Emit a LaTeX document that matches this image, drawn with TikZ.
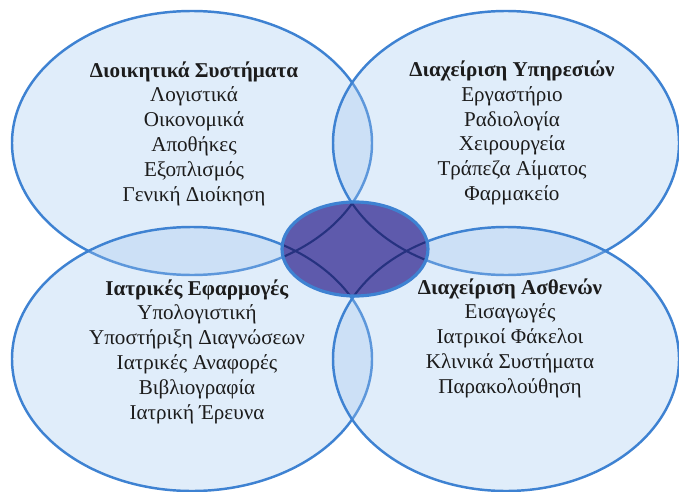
\documentclass[tikz,border=0pt]{standalone}
\usepackage{fontspec}
\setmainfont{Liberation Serif}
\definecolor{rim}{RGB}{62,130,210}
\definecolor{haze}{RGB}{160,198,238}
\definecolor{core}{RGB}{94,90,172}
\definecolor{seam}{RGB}{38,50,128}
\definecolor{ink}{RGB}{28,28,28}
\begin{document}
\begin{tikzpicture}[
  field/.style={draw=rim, line width=1.4pt, fill=haze, fill opacity=0.32},
  lbl/.style={align=center, text=ink, font=\fontsize{12}{14.1}\selectfont}]
\useasboundingbox (0,0) rectangle (13.58,-9.82);
% the four areas
\path[field] (3.84,-2.86) ellipse [x radius=3.6, y radius=2.64];
\path[field] (10.12,-2.86) ellipse [x radius=3.46, y radius=2.64];
\path[field] (3.84,-7.18) ellipse [x radius=3.6, y radius=2.64];
\path[field] (10.12,-7.18) ellipse [x radius=3.46, y radius=2.64];

% common core
\fill[core] (7.1,-4.98) ellipse [x radius=1.46, y radius=0.94];
\begin{scope}
\clip (7.1,-4.98) ellipse [x radius=1.46, y radius=0.94];
\foreach \cx/\cy/\rx in {3.84/-2.86/3.6, 10.12/-2.86/3.46, 3.84/-7.18/3.6, 10.12/-7.18/3.46}
  \draw[seam, line width=1.2pt] (\cx,\cy) ellipse [x radius=\rx, y radius=2.64];
\end{scope}
\draw[rim, line width=1.8pt] (7.1,-4.98) ellipse [x radius=1.46, y radius=0.94];

\node[lbl] (adm) at (3.88,-2.67) {\textbf{Διοικητικά Συστήματα}\\Λογιστικά\\Οικονομικά\\Αποθήκες\\Εξοπλισμός\\Γενική Διοίκηση};
\node[lbl] (srv) at (10.24,-2.66) {\textbf{Διαχείριση Υπηρεσιών}\\Εργαστήριο\\Ραδιολογία\\Χειρουργεία\\Τράπεζα Αίματος\\Φαρμακείο};
\node[lbl] (med) at (3.94,-7.03) {\textbf{Ιατρικές Εφαρμογές}\\Υπολογιστική\\Υποστήριξη Διαγνώσεων\\Ιατρικές Αναφορές\\Βιβλιογραφία\\Ιατρική Έρευνα};
\node[lbl] (pat) at (10.2,-6.76) {\textbf{Διαχείριση Ασθενών}\\Εισαγωγές\\Ιατρικοί Φάκελοι\\Κλινικά Συστήματα\\Παρακολούθηση};
\end{tikzpicture}
\end{document}
